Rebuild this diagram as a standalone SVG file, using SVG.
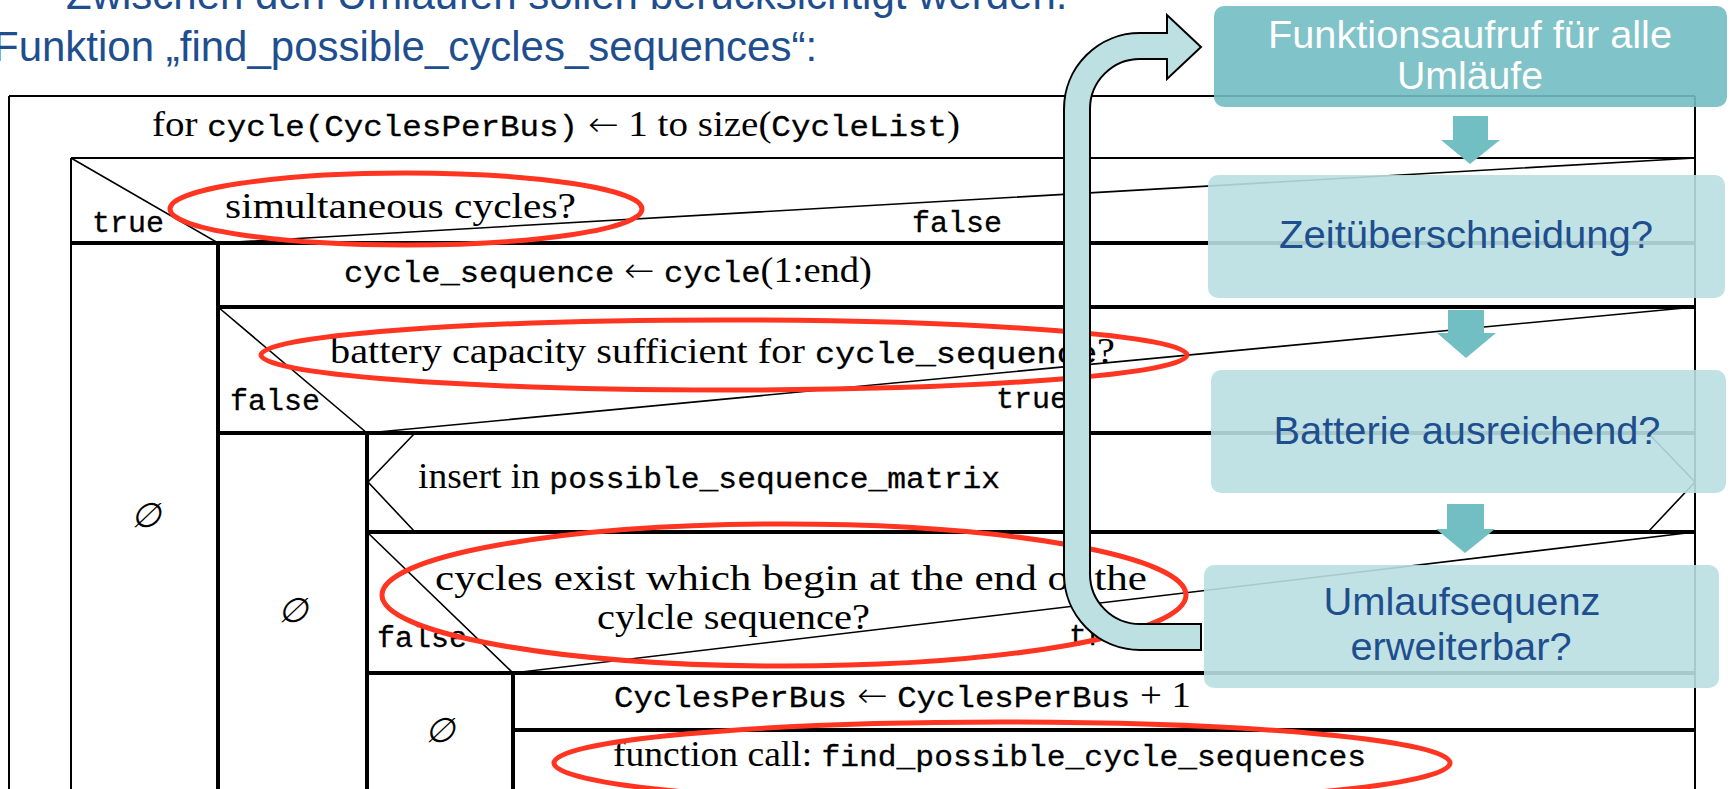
<svg xmlns="http://www.w3.org/2000/svg" width="1734" height="789" viewBox="0 0 1734 789">
<style>
.thin{stroke:#000;stroke-width:2;fill:none}
.thick{stroke:#000;stroke-width:4;fill:none}
.diag{stroke:#000;stroke-width:1.6;fill:none}
.rm{font-family:"Liberation Serif","Times New Roman",serif;font-size:36px}
.tt{font-family:"Liberation Mono","Courier New",monospace;font-size:30px;stroke:#000;stroke-width:0.3}
.arr{font-family:"DejaVu Sans",sans-serif;font-size:34px;font-weight:200}
.empty{font-family:"DejaVu Serif",serif;font-size:34px;font-style:italic;text-anchor:middle}
.ring{fill:none;stroke:#FF3522;stroke-width:5}
.box-dark{fill:#72BDC2;fill-opacity:0.9}
.box-light{fill:#B9DFE1;fill-opacity:0.9}
.boxtxt{font-family:"Liberation Sans",Arial,sans-serif;font-size:38px;text-anchor:middle}
.down{fill:#72BFC3}
.loop{fill:#BDE0E3;stroke:#000;stroke-width:2}
.head{font-family:"Liberation Sans",Arial,sans-serif;font-size:42px;fill:#1F4E8F}
</style>

<!-- slide heading -->
<g id="heading">
<text class="head" x="66" y="9">Zwischen den Umläufen sollen berücksichtigt werden.</text>
<text class="head" x="-7" y="61">Funktion „find_possible_cycles_sequences“:</text>
</g>

<!-- Nassi-Shneiderman structogram -->
<g id="structogram">
<g id="loop-for">
<path class="thin" d="M9,96 H1695 M9,96 V789"/>
<path class="thin" stroke-width="2.5" d="M1695,96 V789"/>
<text x="152" y="136" textLength="808" lengthAdjust="spacingAndGlyphs"><tspan class="rm">for </tspan><tspan class="tt">cycle(CyclesPerBus)</tspan><tspan class="rm"> </tspan><tspan class="arr">←</tspan><tspan class="rm"> 1 to size(</tspan><tspan class="tt">CycleList</tspan><tspan class="rm">)</tspan></text>
</g>

<g id="decision-simultaneous">
<path class="thin" d="M71,158 H1695 M71,158 V789"/>
<path class="diag" d="M71,158 L218,243 L1695,158"/>
<path class="thick" d="M71,243 H1695"/>
<text class="tt" x="92" y="232">true</text>
<text class="tt" x="912" y="232">false</text>
<text class="rm" x="225" y="218" textLength="351" lengthAdjust="spacingAndGlyphs">simultaneous cycles?</text>
<text class="empty" x="146" y="527">∅</text>
</g>

<g id="assign-sequence">
<path class="thick" d="M218,243 V789 M218,307 H1695"/>
<text x="344" y="282" textLength="528" lengthAdjust="spacingAndGlyphs"><tspan class="tt">cycle_sequence</tspan><tspan class="rm"> </tspan><tspan class="arr">←</tspan><tspan class="rm"> </tspan><tspan class="tt">cycle</tspan><tspan class="rm">(1:end)</tspan></text>
</g>

<g id="decision-battery">
<path class="diag" d="M218,307 L367,433 L1695,307"/>
<path class="thick" d="M218,433 H1695"/>
<text class="tt" x="230" y="410">false</text>
<text class="tt" x="996" y="408">true</text>
<text x="330" y="363" textLength="785" lengthAdjust="spacingAndGlyphs"><tspan class="rm">battery capacity sufficient for </tspan><tspan class="tt">cycle_sequence</tspan><tspan class="rm">?</tspan></text>
<text class="empty" x="293" y="622">∅</text>
</g>

<g id="insert-matrix">
<path class="thick" d="M367,433 V789 M367,532 H1695"/>
<path class="diag" d="M415,433 L368,482 L415,532 M1648,433 L1695,482 L1648,532"/>
<text x="418" y="488" textLength="582" lengthAdjust="spacingAndGlyphs"><tspan class="rm">insert in </tspan><tspan class="tt">possible_sequence_matrix</tspan></text>
</g>

<g id="decision-extendable">
<path class="diag" d="M367,532 L513,673 L1695,532"/>
<path class="thick" d="M367,673 H1695"/>
<text class="tt" x="377" y="647">false</text>
<text class="tt" x="1069" y="645">true</text>
<text class="rm" x="435" y="590" textLength="712" lengthAdjust="spacingAndGlyphs">cycles exist which begin at the end of the</text>
<text class="rm" x="597" y="629" textLength="273" lengthAdjust="spacingAndGlyphs">cylcle sequence?</text>
<text class="empty" x="440" y="742">∅</text>
</g>

<g id="increment">
<path class="thick" d="M513,673 V789 M513,730 H1695"/>
<text x="614" y="707" textLength="577" lengthAdjust="spacingAndGlyphs"><tspan class="tt">CyclesPerBus</tspan><tspan class="rm"> </tspan><tspan class="arr">←</tspan><tspan class="rm"> </tspan><tspan class="tt">CyclesPerBus</tspan><tspan class="rm"> + 1</tspan></text>
</g>

<g id="recursive-call">
<text x="613" y="766" textLength="753" lengthAdjust="spacingAndGlyphs"><tspan class="rm">function call: </tspan><tspan class="tt">find_possible_cycle_sequences</tspan></text>
</g>
</g>

<!-- red highlight rings -->
<g id="highlights">
<ellipse class="ring" cx="406" cy="209" rx="236" ry="36"/>
<ellipse class="ring" cx="724" cy="355" rx="463" ry="35"/>
<ellipse class="ring" cx="784" cy="595" rx="402" ry="71"/>
<ellipse class="ring" cx="1002" cy="763" rx="448" ry="41"/>
</g>

<!-- process overview boxes -->
<g id="step-call">
<rect class="box-dark" x="1214" y="6" width="513" height="101" rx="10"/>
<text class="boxtxt" x="1470" y="48" fill="#FFFFFF" font-size="39" textLength="404" lengthAdjust="spacingAndGlyphs">Funktionsaufruf für alle</text>
<text class="boxtxt" x="1470" y="89" fill="#FFFFFF" font-size="39" textLength="146" lengthAdjust="spacingAndGlyphs">Umläufe</text>
</g>
<g id="step-overlap">
<rect class="box-light" x="1208" y="175" width="517" height="123" rx="10"/>
<text class="boxtxt" x="1466" y="248" fill="#1F4E8F" textLength="374" lengthAdjust="spacingAndGlyphs">Zeitüberschneidung?</text>
</g>
<g id="step-battery">
<rect class="box-light" x="1211" y="370" width="515" height="123" rx="10"/>
<text class="boxtxt" x="1467" y="444" fill="#1F4E8F" textLength="387" lengthAdjust="spacingAndGlyphs">Batterie ausreichend?</text>
</g>
<g id="step-extend">
<rect class="box-light" x="1204" y="565" width="515" height="123" rx="10"/>
<text class="boxtxt" x="1462" y="615" fill="#1F4E8F" textLength="277" lengthAdjust="spacingAndGlyphs">Umlaufsequenz</text>
<text class="boxtxt" x="1461" y="660" fill="#1F4E8F" textLength="221" lengthAdjust="spacingAndGlyphs">erweiterbar?</text>
</g>

<!-- connectors -->
<g id="connectors">
<path class="down" d="M1453,116 H1488 V140 H1500 L1470,164 L1441,140 H1453 Z"/>
<path class="down" d="M1448,310 H1484 V333 H1496 L1466,358 L1437,333 H1448 Z"/>
<path class="down" d="M1447,504 H1484 V529 H1495 L1465,553 L1436,529 H1447 Z"/>
<path class="loop" d="M1201,47 L1167,15 V33 H1140 A76,76 0 0 0 1064,109 V574 A76,76 0 0 0 1140,650 H1201 V624 H1140 A50,50 0 0 1 1090,574 V109 A50,50 0 0 1 1140,59 H1167 V79 Z"/>
</g>
</svg>
